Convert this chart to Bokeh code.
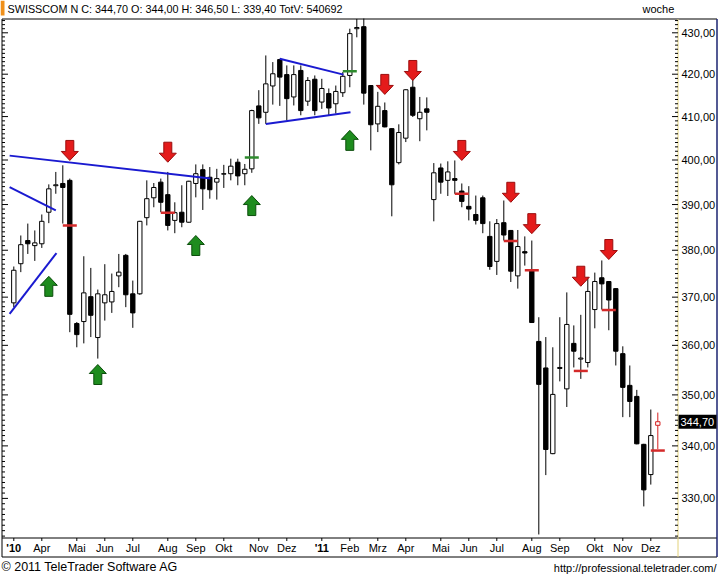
import math
from bokeh.plotting import figure
from bokeh.models import Range1d, ColumnDataSource
from bokeh.core.properties import value
from bokeh.embed import file_html
from bokeh.resources import INLINE

# ---------------- data (weekly, week 1 = first week of March 2010) ----------------
opens = [368.8, 377.1, 382.1, 381.0, 381.4, 388.3, 394.2, 394.7, 395.4, 364.5,
         364.9, 370.1, 361.6, 368.8, 369.0, 374.5, 378.9, 370.7, 370.7, 387.1,
         391.5, 395.0, 392.2, 386.5, 388.3, 386.1, 394.7, 397.8, 396.1, 395.0,
         396.8, 396.9, 399.5, 396.9, 398.0, 412.5, 411.0, 417.2, 423.5, 419.9,
         414.6, 420.9, 413.6, 418.8, 413.4, 415.4, 413.0, 415.6, 419.7, 431.0,
         431.5, 417.3, 408.3, 411.4, 407.2, 399.4, 405.0, 416.9, 409.5, 411.8,
         391.1, 398.2, 395.4, 395.8, 393.0, 389.6, 387.8, 391.5, 383.0, 377.6,
         386.0, 384.3, 374.5, 379.7, 375.7, 360.8, 355.4, 338.5, 355.3, 351.2,
         360.4, 357.2, 356.5, 367.4, 374.1, 373.3, 371.8, 358.3, 351.9, 349.7,
         340.3, 334.5, 344.0]
highs = [376.5, 383.2, 385.8, 384.3, 387.8, 394.5, 397.3, 398.8, 395.8, 364.8,
         378.7, 376.2, 371.6, 377.0, 375.0, 379.2, 379.2, 373.5, 386.4, 395.4,
         394.8, 395.8, 397.3, 390.5, 394.3, 395.3, 399.0, 399.0, 398.4, 398.0,
         398.9, 400.3, 400.3, 399.1, 411.6, 416.2, 424.5, 422.9, 423.7, 422.1,
         422.1, 422.1, 419.3, 419.7, 418.9, 416.6, 417.3, 420.5, 431.0, 433.4,
         433.5, 417.4, 415.8, 413.3, 407.3, 408.2, 416.4, 418.9, 414.6, 414.5,
         399.3, 399.2, 399.7, 399.9, 394.7, 394.1, 392.0, 392.0, 386.3, 386.8,
         390.9, 384.4, 384.4, 383.0, 382.1, 365.8, 361.7, 359.6, 365.8, 371.0,
         364.1, 366.3, 374.2, 375.2, 377.8, 373.4, 371.9, 359.8, 355.9, 351.0,
         340.4, 347.1, 346.5]
lows = [367.9, 375.3, 379.2, 377.7, 380.5, 385.9, 392.4, 385.8, 362.7, 359.6,
        360.4, 361.7, 357.3, 365.1, 366.7, 372.1, 367.9, 363.6, 370.5, 385.4,
        389.4, 388.3, 384.3, 383.7, 385.0, 386.0, 391.6, 388.8, 391.3, 391.1,
        393.7, 395.4, 394.3, 394.3, 397.1, 408.3, 408.3, 412.8, 412.5, 409.1,
        412.6, 410.3, 412.5, 410.3, 411.8, 410.3, 410.7, 414.6, 416.9, 428.9,
        412.8, 402.2, 406.4, 407.5, 387.4, 399.0, 404.1, 409.9, 404.3, 406.8,
        386.3, 392.4, 391.9, 392.4, 389.4, 386.5, 385.6, 383.7, 375.8, 374.7,
        382.1, 373.2, 371.8, 376.7, 364.6, 323.3, 334.4, 338.4, 352.7, 347.6,
        355.5, 353.2, 355.5, 363.5, 367.4, 363.1, 355.9, 345.6, 345.6, 340.3,
        328.5, 332.6, 339.4]
closes = [375.7, 381.2, 381.4, 381.6, 386.3, 393.5, 394.4, 393.8, 366.4, 362.2,
          370.9, 366.2, 370.7, 370.5, 371.2, 375.3, 370.5, 366.7, 386.3, 391.3,
          393.8, 390.5, 385.4, 388.2, 386.1, 395.2, 396.9, 393.5, 393.3, 395.8,
          396.9, 398.6, 396.4, 397.9, 411.4, 409.7, 417.7, 420.1, 419.3, 414.2,
          419.9, 411.4, 418.5, 411.4, 416.6, 412.0, 415.9, 419.5, 429.8, 431.3,
          415.5, 408.1, 412.4, 407.6, 394.4, 406.3, 416.3, 410.3, 411.0, 411.0,
          397.1, 395.0, 397.3, 395.4, 390.7, 389.0, 386.5, 385.8, 376.5, 385.8,
          383.3, 375.5, 380.8, 379.4, 364.7, 352.1, 339.3, 350.1, 355.5, 364.3,
          358.8, 357.4, 371.2, 373.3, 372.8, 369.4, 358.8, 351.5, 348.7, 340.4,
          331.6, 342.0, 344.7]

# month tick labels (week index of the first week of each month)
month_weeks = [1, 5, 10, 14, 18, 23, 27, 31, 36, 40, 45, 49, 53, 57, 62, 66, 70, 75, 79, 84, 88, 92]
month_labels = ["'10", "Apr", "Mai", "Jun", "Jul", "Aug", "Sep", "Okt", "Nov", "Dez",
                "'11", "Feb", "Mrz", "Apr", "Mai", "Jun", "Jul", "Aug", "Sep", "Okt", "Nov", "Dez"]
price_ticks = [330, 340, 350, 360, 370, 380, 390, 400, 410, 420, 430]

# signals
sell_weeks = [9, 23, 54, 58, 65, 72, 75, 82, 86]
sell_arrow_price = [399.9, 399.5, 415.2, 418.5, 399.9, 390.5, 383.6, 372.3, 378.0]
buy_weeks = [6, 13, 27, 35, 49]
buy_arrow_price = [374.4, 356.1, 383.2, 392.0, 406.8]
stop_weeks = [9, 23, 65, 72, 75, 82, 86, 93]
stop_levels = [385.4, 388.2, 392.4, 382.0, 375.7, 354.8, 367.3, 339.1]
entry_weeks = [35, 49]
entry_levels = [400.6, 420.7]

# trend lines: (week, price) start / end
trend_x0 = [0.4, 0.4, 0.4, 39.0, 37.0]
trend_p0 = [401.0, 393.9, 366.5, 423.7, 408.3]
trend_x1 = [29.1, 7.0, 7.1, 48.1, 49.1]
trend_p1 = [395.8, 388.7, 379.4, 419.9, 411.0]

header = "SWISSCOM N C: 344,70 O: 344,00 H: 346,50 L: 339,40 TotV: 540692"
last_close = 344.70

# ---------------- geometry (whole canvas is the plotting frame) ----------------
W, H = 718, 575
PXW = 7.0          # pixels per week
X_FIRST = 13.3     # canvas x of first candle
P_REF, Y_REF, K = 430.0, 32.3, 1759.0   # price 430 sits at canvas y 32.3; px per ln-unit

def ox(px):  # canvas px -> week units
    return 1 + (px - X_FIRST) / PXW

def oy(py):  # canvas px (from top) -> price
    return P_REF * math.exp(-(py - Y_REF) / K)

def shift(price, dpx):  # move a price by dpx pixels upward
    return price * math.exp(dpx / K)

FONT = value("Liberation Sans")
CHART_L, CHART_R, CHART_T, CHART_B = 1.5, 677.5, 18.5, 537.5
AX_B = 556.5

p = figure(width=W, height=H, x_range=Range1d(ox(0), ox(W)), y_range=Range1d(oy(H), oy(0)),
           y_axis_type="log", x_axis_location=None, y_axis_location=None,
           output_backend="svg", toolbar_location=None,
           min_border_left=0, min_border_right=0, min_border_top=0, min_border_bottom=0)
p.grid.visible = False
p.outline_line_color = None
p.background_fill_color = "white"
p.border_fill_color = "white"

# ---- frame lines ----
p.segment(x0=[ox(CHART_L)] * 3, x1=[ox(W - 1.5)] * 3, y0=[oy(CHART_T), oy(CHART_B), oy(AX_B)],
          y1=[oy(CHART_T), oy(CHART_B), oy(AX_B)], line_color="black", line_width=1)
p.segment(x0=[ox(CHART_L)], x1=[ox(CHART_L)], y0=[oy(CHART_T)], y1=[oy(AX_B)], line_color="black", line_width=1)
p.segment(x0=[ox(CHART_R)], x1=[ox(CHART_R)], y0=[oy(CHART_T)], y1=[oy(AX_B)], line_color="#e3d27a", line_width=1)
p.segment(x0=[ox(W - 1.5)], x1=[ox(W - 1.5)], y0=[oy(CHART_T)], y1=[oy(AX_B)], line_color="#1b2370", line_width=1.5)

# ---- price axis (right) ----
minor = [v for v in range(323, 434) if v % 10]
p.segment(x0=[ox(CHART_R - 3)] * len(minor), x1=[ox(CHART_R)] * len(minor), y0=minor, y1=minor,
          line_color="black", line_width=1)
p.segment(x0=[ox(CHART_R - 6)] * len(price_ticks), x1=[ox(CHART_R)] * len(price_ticks),
          y0=price_ticks, y1=price_ticks, line_color="black", line_width=1)
# left border ticks
p.segment(x0=[ox(CHART_L)] * len(minor), x1=[ox(CHART_L + 3)] * len(minor), y0=minor, y1=minor,
          line_color="black", line_width=1)
p.segment(x0=[ox(CHART_L)] * len(price_ticks), x1=[ox(CHART_L + 6)] * len(price_ticks),
          y0=price_ticks, y1=price_ticks, line_color="black", line_width=1)
p.text(x=[ox(681)] * len(price_ticks), y=price_ticks,
       text=[f"{v:.2f}".replace(".", ",") for v in price_ticks],
       text_font=FONT, text_font_size=value("11px"), text_baseline="middle", text_color="black")

# last price box
p.quad(left=[ox(678)], right=[ox(716)], top=[shift(last_close, 7)], bottom=[shift(last_close, -7)],
       fill_color="black", line_color=None)
p.text(x=[ox(680)], y=[last_close], text=["344,70"], text_font=FONT, text_font_size=value("11px"),
       text_baseline="middle", text_color="white")

# ---- time axis (bottom strip) ----
p.segment(x0=month_weeks, x1=month_weeks, y0=[oy(CHART_B)] * len(month_weeks),
          y1=[oy(CHART_B + 3)] * len(month_weeks), line_color="black", line_width=1)
norm = [(w, l) for w, l in zip(month_weeks, month_labels) if not l.startswith("'")]
bold = [(w, l) for w, l in zip(month_weeks, month_labels) if l.startswith("'")]
p.text(x=[w for w, _ in norm], y=[oy(547)] * len(norm), text=[l for _, l in norm],
       text_font=FONT, text_font_size=value("11px"), text_align="center", text_baseline="middle",
       text_color="black")
p.text(x=[w for w, _ in bold], y=[oy(547)] * len(bold), text=[l for _, l in bold],
       text_font=FONT, text_font_size=value("11px"), text_font_style="bold", text_align="center",
       text_baseline="middle", text_color="black")

# ---- candles ----
n = len(closes)
weeks = list(range(1, n + 1))
fill = ["white" if c >= o else "black" for o, c in zip(opens, closes)]
line = ["black"] * n
line[-1] = "#d42020"
src = ColumnDataSource(dict(x=weeks, h=highs, l=lows,
                            top=[max(o, c) for o, c in zip(opens, closes)],
                            bot=[min(o, c) for o, c in zip(opens, closes)],
                            fill=fill, line=line))
p.segment(x0="x", y0="h", x1="x", y1="l", color="line", line_width=1, source=src)
p.vbar(x="x", top="top", bottom="bot", width=0.62, fill_color="fill", line_color="line",
       line_width=1, source=src)

# stop / entry level marks
p.segment(x0=[w - 1 for w in stop_weeks], x1=[w + 1 for w in stop_weeks],
          y0=stop_levels, y1=stop_levels, line_color="#d42a2a", line_width=2.5)
p.segment(x0=[w - 1 for w in entry_weeks], x1=[w + 1 for w in entry_weeks],
          y0=entry_levels, y1=entry_levels, line_color="#2e8b2e", line_width=2.5)

# trend lines
p.segment(x0=trend_x0, y0=trend_p0, x1=trend_x1, y1=trend_p1, line_color="#1a1ad0", line_width=2)

# arrows (shape in pixels)
HW, HH, SW, SH = 8.5, 9.0, 4.0, 11.0
def arrow(w, tip, down):
    s = 1 if down else -1
    xs = [w, w - HW / PXW, w - SW / PXW, w - SW / PXW, w + SW / PXW, w + SW / PXW, w + HW / PXW]
    ys = [tip, shift(tip, s * HH), shift(tip, s * HH), shift(tip, s * (HH + SH)),
          shift(tip, s * (HH + SH)), shift(tip, s * HH), shift(tip, s * HH)]
    return xs, ys

axs, ays = zip(*[arrow(w, t, True) for w, t in zip(sell_weeks, sell_arrow_price)])
p.patches(list(axs), list(ays), fill_color="#e41b1b", line_color="#9a0d0d", line_width=1)
bxs, bys = zip(*[arrow(w, t, False) for w, t in zip(buy_weeks, buy_arrow_price)])
p.patches(list(bxs), list(bys), fill_color="#1e8c1e", line_color="#0b4d0b", line_width=1)

# ---- header / footer ----
p.quad(left=[ox(0)], right=[ox(4)], top=[oy(0)], bottom=[oy(15)], fill_color="#f0901a", line_color=None)
p.text(x=[ox(7)], y=[oy(8.5)], text=[header], text_font=FONT, text_font_size=value("10.8px"),
       text_baseline="middle", text_color="black")
p.text(x=[ox(642)], y=[oy(8.5)], text=["woche"], text_font=FONT, text_font_size=value("11px"),
       text_baseline="middle", text_color="black")
p.text(x=[ox(1)], y=[oy(566)], text=["\u00a9 2011 TeleTrader Software AG"], text_font=FONT,
       text_font_size=value("12.5px"), text_baseline="middle", text_color="black")
p.text(x=[ox(716)], y=[oy(567)], text=["http://professional.teletrader.com/"], text_font=FONT,
       text_font_size=value("11px"), text_align="right", text_baseline="middle", text_color="black")

open("out.html", "w").write(file_html(p, INLINE))
